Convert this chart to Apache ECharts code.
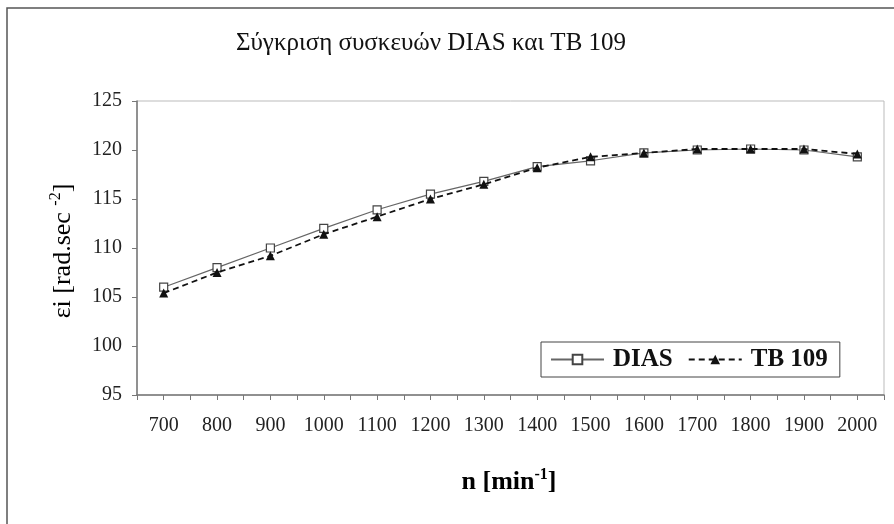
<!DOCTYPE html>
<html>
<head>
<meta charset="utf-8">
<script src="https://cdn.jsdelivr.net/npm/echarts@6/dist/echarts.min.js"></script>
<style>
  html, body { margin: 0; padding: 0; background: #fff; }
  #chart { width: 894px; height: 524px; }
</style>
</head>
<body>
<div id="chart"></div>
<script>
var rpm = [700, 800, 900, 1000, 1100, 1200, 1300, 1400, 1500, 1600, 1700, 1800, 1900, 2000];
var dias = [106.0, 108.0, 110.0, 112.0, 113.9, 115.5, 116.8, 118.3, 118.9, 119.7, 120.0, 120.1, 120.0, 119.3];
var tb109 = [105.4, 107.5, 109.2, 111.4, 113.2, 115.0, 116.5, 118.2, 119.3, 119.7, 120.1, 120.1, 120.1, 119.6];

function pairs(xs, ys) {
    return xs.map(function (x, i) { return [x, ys[i]]; });
}

var serif = '"Liberation Serif", "Times New Roman", serif';
var chart = echarts.init(document.getElementById('chart'));

var option = {
    backgroundColor: '#fff',
    animation: false,
    graphic: [
        {
            type: 'rect',
            shape: { x: 7, y: 8, width: 900, height: 530 },
            style: { fill: 'none', stroke: '#555', lineWidth: 1.5 },
            silent: true
        },
        {
            type: 'text',
            x: 431, y: 43,
            style: {
                text: 'Σύγκριση συσκευών DIAS και TB 109',
                align: 'center', verticalAlign: 'middle',
                fontFamily: serif, fontSize: 25, fill: '#111'
            }
        },
        {
            type: 'text',
            x: 509, y: 482,
            style: {
                text: '{a|n [min}{s|-1}{a|]}',
                align: 'center', verticalAlign: 'middle',
                rich: {
                    a: { fontFamily: serif, fontSize: 26, fontWeight: 'bold', color: '#111' },
                    s: { fontFamily: serif, fontSize: 16, fontWeight: 'bold', color: '#111', verticalAlign: 'top', padding: [0, 0, 14, 0] }
                }
            }
        },
        {
            type: 'text',
            x: 63, y: 251,
            rotation: Math.PI / 2,
            style: {
                text: '{a|εi [rad.sec }{s|-2}{a|]}',
                align: 'center', verticalAlign: 'middle',
                rich: {
                    a: { fontFamily: serif, fontSize: 26, color: '#111' },
                    s: { fontFamily: serif, fontSize: 16, color: '#111', verticalAlign: 'top', padding: [0, 0, 14, 0] }
                }
            }
        }
    ],
    legend: {
        left: 541,
        top: 342,
        padding: [5, 12, 5, 9],
        borderColor: '#444',
        borderWidth: 1,
        itemWidth: 53,
        itemHeight: 12,
        itemGap: 15,
        textStyle: { fontFamily: serif, fontSize: 25, fontWeight: 'bold', color: '#111', padding: [0, 0, 0, 4] },
        data: ['DIAS', 'TB 109']
    },
    grid: {
        left: 137,
        top: 101,
        width: 747,
        height: 294,
        show: true,
        borderColor: '#bbb',
        borderWidth: 1
    },
    xAxis: {
        type: 'value',
        min: 650,
        max: 2050,
        interval: 50,
        axisLine: { lineStyle: { color: '#777', width: 1.5 } },
        axisTick: { length: 5, lineStyle: { color: '#777' } },
        splitLine: { show: false },
        axisLabel: {
            fontFamily: serif, fontSize: 20, color: '#222', margin: 21,
            showMinLabel: true, showMaxLabel: true,
            formatter: function (v) { return v % 100 === 0 ? String(v) : ''; }
        }
    },
    yAxis: {
        type: 'value',
        min: 95,
        max: 125,
        interval: 5,
        axisLine: { show: true, lineStyle: { color: '#777', width: 1.5 } },
        axisTick: { show: true, length: 5, lineStyle: { color: '#777' } },
        splitLine: { show: false },
        axisLabel: { fontFamily: serif, fontSize: 20, color: '#222', margin: 15 }
    },
    series: [
        {
            name: 'DIAS',
            type: 'line',
            data: pairs(rpm, dias),
            symbol: 'rect',
            symbolSize: 8,
            lineStyle: { color: '#666', width: 1.2 },
            itemStyle: { color: '#fff', borderColor: '#444', borderWidth: 1.2 },
            z: 3
        },
        {
            name: 'TB 109',
            type: 'line',
            data: pairs(rpm, tb109),
            symbol: 'triangle',
            symbolSize: 9,
            lineStyle: { color: '#111', width: 1.8, type: [6, 4] },
            itemStyle: { color: '#111', borderColor: '#111', borderWidth: 0 },
            z: 4
        }
    ]
};

chart.setOption(option);
</script>
</body>
</html>
